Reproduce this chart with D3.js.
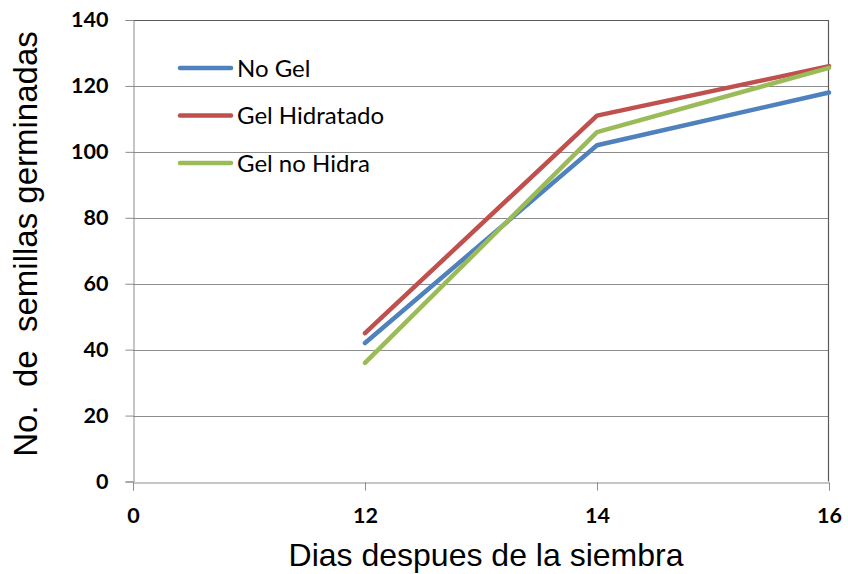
<!DOCTYPE html>
<html>
<head>
<meta charset="utf-8">
<script src="https://cdn.jsdelivr.net/npm/d3@7"></script>
<style>
  html, body { margin: 0; padding: 0; background: #fff; }
  svg { display: block; }
</style>
</head>
<body>
<svg id="chart" width="848" height="574"></svg>
<script>
// Days after sowing (category axis) and germinated seeds per treatment
const days = ["0", "12", "14", "16"];
const seriesNames = ["No Gel", "Gel Hidratado", "Gel no Hidra"];
const noGel = [null, 42, 102, 118];
const gelHidratado = [null, 45, 111, 126];
const gelNoHidra = [null, 36, 106, 125.5];
const seriesColors = ["#4F81BD", "#C0504D", "#9BBB59"];
const yTicks = [0, 20, 40, 60, 80, 100, 120, 140];

const series = [noGel, gelHidratado, gelNoHidra].map((vals, i) => ({
  name: seriesNames[i],
  color: seriesColors[i],
  points: days.map((d, j) => ({ day: d, value: vals[j] }))
}));

const svg = d3.select("#chart");
const plotLeft = 133, plotRight = 829, plotTop = 20, plotBottom = 481.5;

const x = d3.scalePoint().domain(days).range([plotLeft, plotRight]).padding(0);
const y = d3.scaleLinear().domain([0, 140]).range([plotBottom, plotTop]);

// horizontal gridlines
svg.append("g")
  .selectAll("line")
  .data(yTicks.slice(1))
  .join("line")
  .attr("x1", plotLeft).attr("x2", plotRight)
  .attr("y1", d => Math.round(y(d)) + 0.5).attr("y2", d => Math.round(y(d)) + 0.5)
  .attr("stroke", "#8c8c8c").attr("stroke-width", 1);

// plot area frame (top and right edges)
svg.append("path")
  .attr("d", `M${plotLeft},${Math.round(plotTop) + 0.5}H${plotRight - 0.5}V${plotBottom}`)
  .attr("fill", "none").attr("stroke", "#5a5a5a").attr("stroke-width", 1.2);

// y axis
const yAxis = svg.append("g")
  .attr("transform", `translate(${plotLeft + 0.5},0)`)
  .call(d3.axisLeft(y).tickValues(yTicks).tickSize(8).tickPadding(17).tickFormat(d3.format("d")));
yAxis.select(".domain").attr("stroke", "#8c8c8c");
yAxis.selectAll(".tick line").attr("stroke", "#8c8c8c");
yAxis.selectAll(".tick text")
  .attr("font-family", "Lato, 'Open Sans', sans-serif")
  .attr("font-weight", "bold").attr("font-size", 21.5).attr("fill", "#000");

// x axis
const xAxis = svg.append("g")
  .attr("transform", `translate(0,${Math.round(plotBottom) + 0.5})`)
  .call(d3.axisBottom(x).tickSize(8).tickPadding(17));
xAxis.select(".domain").attr("stroke", "#8c8c8c");
xAxis.selectAll(".tick line").attr("stroke", "#8c8c8c");
xAxis.selectAll(".tick text")
  .attr("font-family", "Lato, 'Open Sans', sans-serif")
  .attr("font-weight", "bold").attr("font-size", 21.5).attr("fill", "#000");

// series lines
const line = d3.line()
  .defined(d => d.value != null)
  .x(d => x(d.day))
  .y(d => y(d.value));

svg.append("g")
  .selectAll("path")
  .data(series)
  .join("path")
  .attr("d", d => line(d.points))
  .attr("fill", "none")
  .attr("stroke", d => d.color)
  .attr("stroke-width", 4.5)
  .attr("stroke-linecap", "round")
  .attr("stroke-linejoin", "round");

// legend
const legend = svg.append("g")
  .selectAll("g")
  .data(series)
  .join("g")
  .attr("transform", (d, i) => `translate(180,${68 + i * 47.5})`);
legend.append("line")
  .attr("x1", 0).attr("x2", 51)
  .attr("stroke", d => d.color).attr("stroke-width", 4.5)
  .attr("stroke-linecap", "round");
legend.append("text")
  .attr("x", 57).attr("dy", "0.36em")
  .attr("font-family", "Lato, 'Open Sans', sans-serif")
  .attr("font-size", 24).attr("fill", "#000")
  .text(d => d.name);

// axis titles
svg.append("text")
  .attr("x", (plotLeft + plotRight) / 2 + 5).attr("y", 566)
  .attr("text-anchor", "middle")
  .attr("font-family", "'Liberation Sans', Arial, sans-serif")
  .attr("font-size", 32).attr("fill", "#000")
  .text("Dias despues de la siembra");

svg.append("text")
  .attr("transform", "translate(37,244) rotate(-90)")
  .attr("text-anchor", "middle")
  .attr("font-family", "'Liberation Sans', Arial, sans-serif")
  .attr("font-size", 33).attr("fill", "#000")
  .attr("xml:space", "preserve")
  .style("white-space", "pre")
  .text("No.  de  semillas germinadas");
</script>
</body>
</html>
